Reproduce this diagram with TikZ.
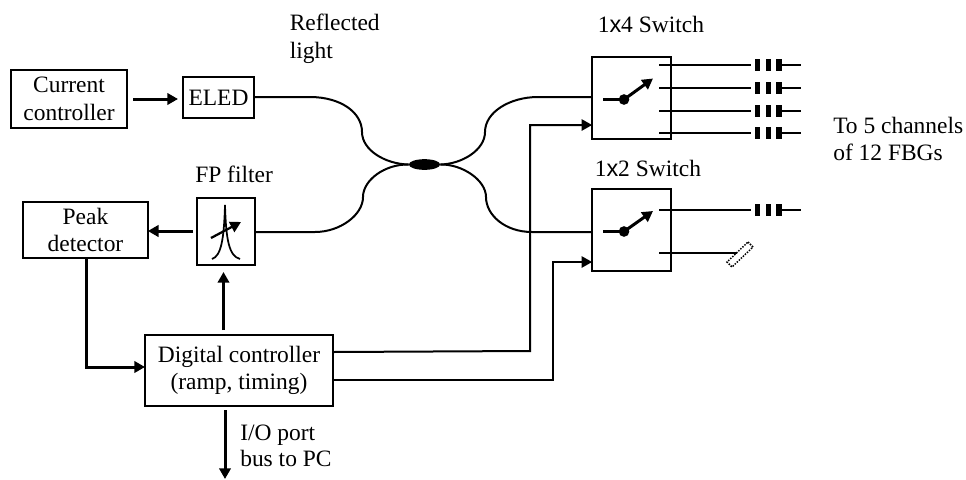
\documentclass[tikz,border=0pt]{standalone}
\usepackage{fontspec}
\setmainfont{Liberation Serif}
\setsansfont{Liberation Sans}
\usetikzlibrary{arrows.meta,shapes.geometric}
\tikzset{
  box/.style={draw=black,line width=1.7pt,inner sep=0pt,outer sep=0pt,align=center,font=\fontsize{17.6pt}{20.6pt}\selectfont,fill=white},
  lbl/.style={inner sep=0pt,anchor=base west,align=left,font=\fontsize{17.6pt}{20.6pt}\selectfont},
  arr/.style={line width=2.25pt,-{Triangle[length=8pt,width=8.5pt]}},
  fiber/.style={line width=1.5pt},
  lead/.style={line width=1.5pt},
  grating/.style={line width=4.4pt},
  blob/.style={ellipse,fill=black,inner sep=0pt,minimum width=23.5pt,minimum height=8pt},
  pivot/.style={circle,fill=black,inner sep=0pt,minimum size=8pt},
}
\begin{document}
\begin{tikzpicture}[x=0.75pt,y=-0.75pt]
\useasboundingbox (0,0) rectangle (966,479);
% boxes
\node[box,minimum width=87pt,minimum height=43.5pt] (cc) at (69,99) {Current\\controller};
\node[box,minimum width=53pt,minimum height=31pt] (eled) at (218.5,97.5) {ELED};
\node[box,minimum width=93.5pt,minimum height=42pt] (peak) at (85.5,230) {Peak\\detector};
\node[box,minimum width=43.5pt,minimum height=50pt] (fp) at (226,231.5) {};
\node[box,minimum width=141pt,minimum height=53.5pt] (dig) at (239,370.5) {Digital controller\\(ramp, timing)};
\node[box,minimum width=59pt,minimum height=61.5pt] (swa) at (631.5,98) {};
\node[box,minimum width=59pt,minimum height=61.5pt] (swb) at (631.5,230) {};
% labels
\node[lbl] (rl) at (289.5,30) {Reflected};
\node[lbl] (lt) at (289.5,58) {light};
\node[lbl] (s4) at (597.5,32) {1{\sffamily x}4 Switch};
\node[lbl] (s2) at (594.5,176) {1{\sffamily x}2 Switch};
\node[lbl] (fpl) at (195,182) {FP filter};
\node[lbl] (to1) at (833,133) {To 5 channels};
\node[lbl] (to2) at (833,160) {of 12 FBGs};
\node[lbl] (io) at (240,440) {I/O port};
\node[lbl] (bus) at (240,466) {bus to PC};
% coupler
\node[blob] (cpl) at (424.5,164.5) {};
\draw[fiber] (eled.east |- 0,97) -- (310,97) .. controls (340,97) and (362,112) .. (362,132) .. controls (362,150) and (385,164) .. (cpl.west);
\draw[fiber] (fp.east |- 0,232) -- (315,232) .. controls (340,232) and (363,215) .. (363,197) .. controls (363,180) and (385,164) .. (cpl.west);
\draw[fiber] (swa.west |- 0,97) -- (538,97) .. controls (510,97) and (485,112) .. (485,132) .. controls (485,150) and (462,164) .. (cpl.east);
\draw[fiber] (swb.west |- 0,232) -- (532,232) .. controls (505,232) and (486,215) .. (486,197) .. controls (486,180) and (462,164) .. (cpl.east);
% arrows
\coordinate (cco) at (133,99);
\coordinate (cct) at (178,99);
\draw[arr] (cco) -- (cct);
\coordinate (fpo) at (193,231);
\draw[arr] (fpo) -- (peak.east |- 0,231);
\coordinate (digtop) at (223.5,330);
\draw[arr] (digtop) -- (223.5,272);
\draw[arr] (86,258) -- (86,367) -- (dig.west |- 0,367);
\draw[arr,line width=1.5pt] (dig.east |- 0,352) -- (530,351) -- (530,125) -- (swa.west |- 0,125);
\draw[arr,line width=1.5pt] (dig.east |- 0,380) -- (553,380) -- (553,262) -- (swb.west |- 0,262);
\draw[arr] (225,410) -- (225,479);
% switch 1x4
\foreach \yy/\n in {65/a,88/b,111/c,133/d}{
  \draw[lead] (659,\yy) -- (751,\yy);
  \draw[lead] (781,\yy) -- (801,\yy);
  \foreach \xx in {757.5,768.5,779}{\draw[grating] (\xx,\yy-6) -- (\xx,\yy+6);}
}
\node[pivot] (pa) at (624,99.5) {};
\draw[lead,line width=2pt] (603,99.5) -- (pa.center);
\draw[arr] (pa.center) -- (653,78.5);
% switch 1x2
\draw[lead] (659,210) -- (751,210);
\draw[lead] (781,210) -- (801,210);
\foreach \xx in {757.5,768.5,779}{\draw[grating] (\xx,204) -- (\xx,216);}
\node[pivot] (pb) at (624,231.5) {};
\draw[lead,line width=2pt] (603,231.5) -- (pb.center);
\draw[arr] (pb.center) -- (653,211);
\draw[lead] (659,253) -- (737,253);
\draw[line width=1.1pt,densely dotted] (748,242) -- (753,247) -- (732,267) -- (727,262) -- cycle;
% FP icon
\draw[line width=1.3pt] (212,259) .. controls (221,256) and (224,240) .. (225,205) .. controls (226,240) and (229,256) .. (240,259);
\draw[arr,line width=1.7pt] (211,238) -- (241,222);
\end{tikzpicture}
\end{document}
